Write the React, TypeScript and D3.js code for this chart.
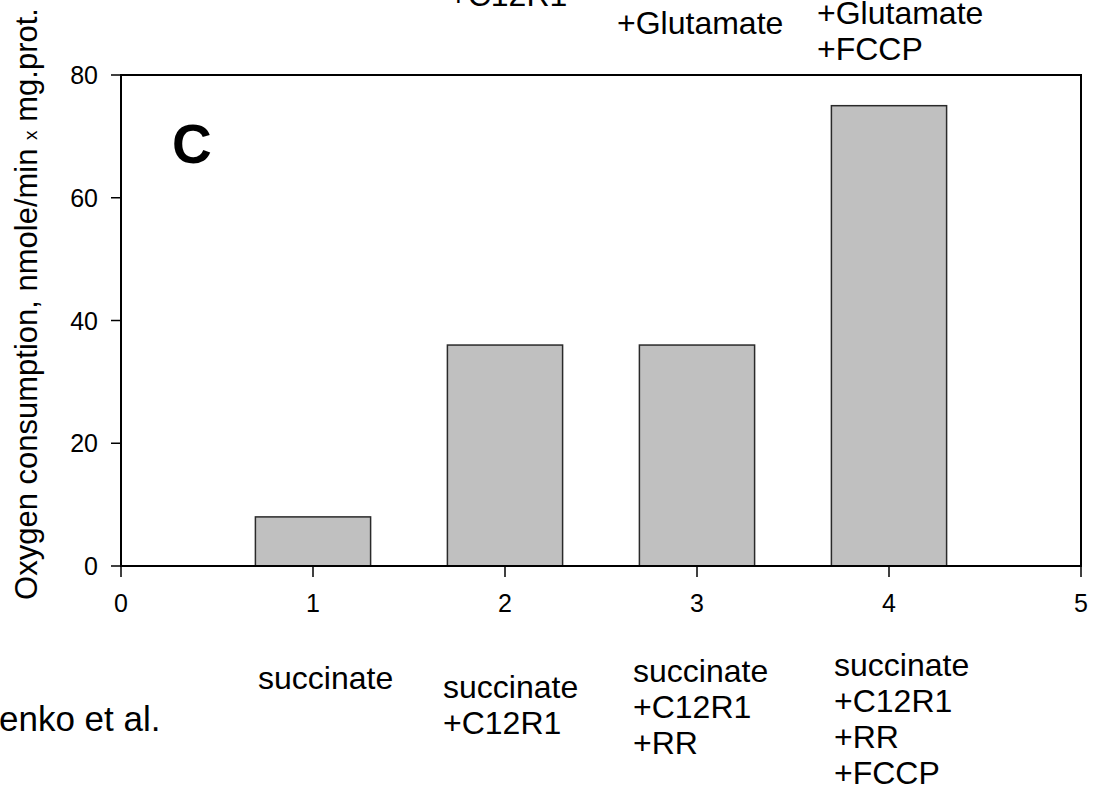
import React from "react";
import * as d3 from "d3";

const categories = [1, 2, 3, 4];
const values = [8, 36, 36, 75];
const xTicks = [0, 1, 2, 3, 4, 5];
const yTicks = [0, 20, 40, 60, 80];
const bottomLabels = [
  ["succinate"],
  ["succinate", "+C12R1"],
  ["succinate", "+C12R1", "+RR"],
  ["succinate", "+C12R1", "+RR", "+FCCP"],
];
const topLabels = [
  ["+C12R1"],
  ["+Glutamate"],
  ["+Glutamate", "+FCCP"],
];

const W = 1100;
const H = 787;
const FONT = "'Liberation Sans', Arial, sans-serif";

export default function App() {
  const x = d3.scaleLinear().domain([0, 5]).range([121, 1081]);
  const y = d3.scaleLinear().domain([0, 80]).range([566, 75]);
  const barW = x(0.6) - x(0);

  const labelX = [258, 443, 633, 834];
  const labelY = [689, 698, 682, 676];
  const topX = [449, 617, 817];
  const topY = [6, 34, 24];

  return (
    <svg width={W} height={H} style={{ position: "absolute", left: 0, top: 0, background: "#fff" }} fontFamily={FONT}>
      {/* bars */}
      {categories.map((c, i) => (
        <rect key={c} x={x(c) - barW / 2} y={y(values[i])} width={barW} height={y(0) - y(values[i])}
          fill="#c0c0c0" stroke="#2a2a2a" strokeWidth={1.5} />
      ))}
      {/* frame */}
      <rect x={x(0)} y={y(80)} width={x(5) - x(0)} height={y(0) - y(80)} fill="none" stroke="#000" strokeWidth={2} />
      {/* y ticks */}
      {yTicks.map((t) => (
        <g key={t}>
          <line x1={x(0) - 10} x2={x(0)} y1={y(t)} y2={y(t)} stroke="#000" strokeWidth={1.5} />
          <text x={98} y={y(t)} dy="0.36em" textAnchor="end" fontSize={25}>{t}</text>
        </g>
      ))}
      {/* x ticks */}
      {xTicks.map((t) => (
        <g key={t}>
          <line x1={x(t)} x2={x(t)} y1={y(0)} y2={y(0) + 11} stroke="#000" strokeWidth={1.5} />
          <text x={x(t)} y={y(0) + 46} textAnchor="middle" fontSize={25}>{t}</text>
        </g>
      ))}
      {/* y label */}
      <text transform={`translate(37,304) rotate(-90)`} textAnchor="middle" fontSize={31}>
        Oxygen consumption, nmole/min <tspan fontSize={19}>x</tspan> mg.prot.
      </text>
      {/* panel letter */}
      <text x={172} y={163} fontSize={55} fontWeight="bold">C</text>
      {/* bottom labels */}
      {bottomLabels.map((lines, i) => (
        <text key={i} fontSize={32}>
          {lines.map((l, j) => (
            <tspan key={j} x={labelX[i]} y={labelY[i] + j * 36}>{l}</tspan>
          ))}
        </text>
      ))}
      {/* top labels */}
      {topLabels.map((lines, i) => (
        <text key={i} fontSize={32}>
          {lines.map((l, j) => (
            <tspan key={j} x={topX[i]} y={topY[i] + j * 36}>{l}</tspan>
          ))}
        </text>
      ))}
      {/* partial side text */}
      <text x={-1} y={731} fontSize={35}>enko et al.</text>
    </svg>
  );
}
